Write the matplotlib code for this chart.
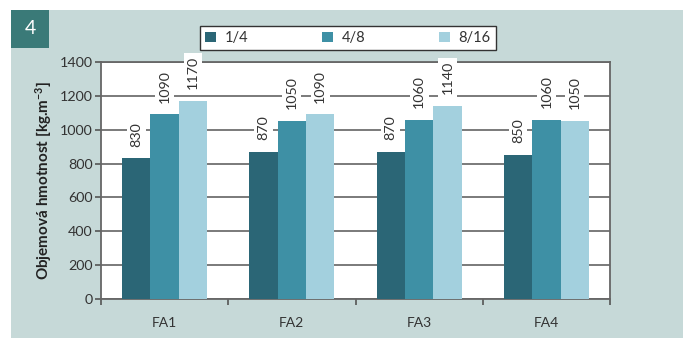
import matplotlib.pyplot as plt
from matplotlib.patches import Rectangle
import numpy as np

plt.rcParams['font.family'] = ['Lato', 'DejaVu Sans']
plt.rcParams['mathtext.default'] = 'regular'

skupiny = ['FA1', 'FA2', 'FA3', 'FA4']
frakce = ['1/4', '4/8', '8/16']
h_1_4 = [830, 870, 870, 850]
h_4_8 = [1090, 1050, 1060, 1060]
h_8_16 = [1170, 1090, 1140, 1050]
barvy = ['#2b6676', '#3e90a5', '#a3d0de']

fig = plt.figure(figsize=(6.83, 3.38), dpi=100)
fig.patch.set_facecolor('white')
fig.patches.append(Rectangle((11/683, 0), 1, 1 - 10/338, transform=fig.transFigure,
                             facecolor='#c6d9d8', edgecolor='none', zorder=-2))
fig.patches.append(Rectangle((11/683, 1 - 48/338), 38/683, 38/338, transform=fig.transFigure,
                             facecolor='#3a7a78', edgecolor='none', zorder=-1))
fig.text(30/683, 1 - 29/338, '4', color='white', fontsize=14, ha='center', va='center')

ax = fig.add_axes([101/683, 39/338, 509/683, 237/338])
ax.set_facecolor('white')

x = np.arange(len(skupiny))
w = 0.223
for i, (vals, c, lab) in enumerate(zip([h_1_4, h_4_8, h_8_16], barvy, frakce)):
    pos = x + (i - 1) * w
    ax.bar(pos, vals, width=w, color=c, label=lab, zorder=3, edgecolor='none')
    for p, v in zip(pos, vals):
        ax.annotate(str(v), (p, v), xytext=(0, 8.5), textcoords='offset points',
                    rotation=90, ha='center', va='bottom', fontsize=10.3, color='#333333',
                    bbox=dict(facecolor='white', edgecolor='none', pad=2.5), zorder=4,
                    annotation_clip=False)

ax.set_xlim(-0.5, 3.5)
ax.set_ylim(0, 1400)
ax.set_yticks(range(0, 1401, 200))
ax.set_xticks(x)
ax.set_xticklabels(skupiny)
ax.set_xticks(np.arange(-0.5, 3.6, 1), minor=True)
ax.tick_params(axis='x', which='major', length=0, pad=13, labelsize=10, labelcolor='#333333')
ax.tick_params(axis='x', which='minor', length=4, color='#555555', width=1.2)
ax.tick_params(axis='y', length=4, color='#555555', width=1.2, labelsize=10.3,
               labelcolor='#333333', pad=2)
ax.grid(axis='y', color='#707070', linewidth=1.3, zorder=1)
for s in ax.spines.values():
    s.set_color('#666666')
    s.set_linewidth(1.3)
ax.set_ylabel('Objemová hmotnost [kg.m$^{-3}$]', fontsize=11, fontweight='bold',
              color='#222222', labelpad=4)

leg = fig.legend(loc='center', bbox_to_anchor=(348/683, 1 - 38/338), ncol=3, frameon=True,
                 fancybox=False, edgecolor='#333333', framealpha=1, fontsize=10.5,
                 handlelength=0.7, handleheight=0.7, handletextpad=0.6, columnspacing=5.1,
                 borderpad=0.35)
leg.get_frame().set_linewidth(1.0)
for t in leg.get_texts():
    t.set_color('#333333')

fig.savefig('out.png', dpi=100, facecolor=fig.get_facecolor())
